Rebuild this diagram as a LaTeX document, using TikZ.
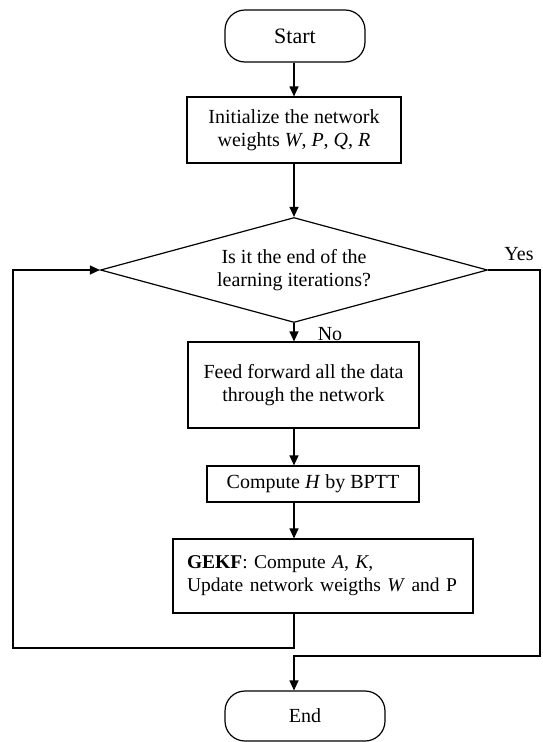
\documentclass[tikz,border=0pt]{standalone}
\usepackage{fontspec}
\setmainfont{Liberation Serif}
\usetikzlibrary{shapes.geometric,arrows.meta}
\begin{document}
\begin{tikzpicture}[x=1pt,y=1pt,
  every node/.style={font=\fontsize{20}{23}\selectfont},
  arr/.style={line width=1.2pt,-{Triangle[length=10pt,width=9pt]}},
  term/.style={draw,line width=1.2pt,rounded corners=20pt,inner sep=0pt},
  proc/.style={draw,line width=1.2pt,inner sep=0pt,align=center},
  decision/.style={draw,diamond,aspect=3.7,line width=1.2pt,inner sep=0pt,align=center}]
\useasboundingbox (0,0) rectangle (542,-742);
\node[term,minimum width=140pt,minimum height=52pt,font=\fontsize{22}{24}\selectfont] (start) at (295,-36) {Start};
\node[proc,minimum width=214pt,minimum height=66pt] (init) at (294,-130) {Initialize the network\\weights \textit{W}, \textit{P}, \textit{Q}, \textit{R}};
\node[decision,minimum width=387pt,minimum height=105pt] (dec) at (294,-270) {Is it the end of the\\learning iterations?};
\node[proc,minimum width=231pt,minimum height=86pt] (feed) at (303.5,-385) {Feed forward all the data\\through the network};
\node[proc,minimum width=212pt,minimum height=36pt] (comph) at (313,-484) {Compute \textit{H} by BPTT};
\node[proc,align=left,text width=272pt,minimum width=300pt,minimum height=74pt,font=\fontsize{19.5}{23}\selectfont] (gekf) at (323,-576) {\textbf{GEKF}: Compute \textit{A}, \textit{K},\\Update network weigths \textit{W} and P};
\node[term,minimum width=160pt,minimum height=50pt] (end) at (305,-716) {End};
\node (yes) at (519,-254) {Yes};
\node (no) at (330,-334) {No};
\coordinate (loopc) at (13,-648);
\coordinate (yesc) at (540,-656);
\draw[arr] (start.south -| dec.north) -- (init.north -| dec.north);
\draw[arr] (init.south -| dec.north) -- (dec.north);
\draw[arr] (dec.south) -- (feed.north -| dec.south);
\draw[arr] (feed.south -| dec.south) -- (comph.north -| dec.south);
\draw[arr] (comph.south -| dec.south) -- (gekf.north -| dec.south);
\draw[arr] (gekf.south -| dec.south) |- (loopc) |- (dec.west);
\draw[arr] (dec.east) -| (yesc) -| (end.north -| dec.south);
\end{tikzpicture}
\end{document}
